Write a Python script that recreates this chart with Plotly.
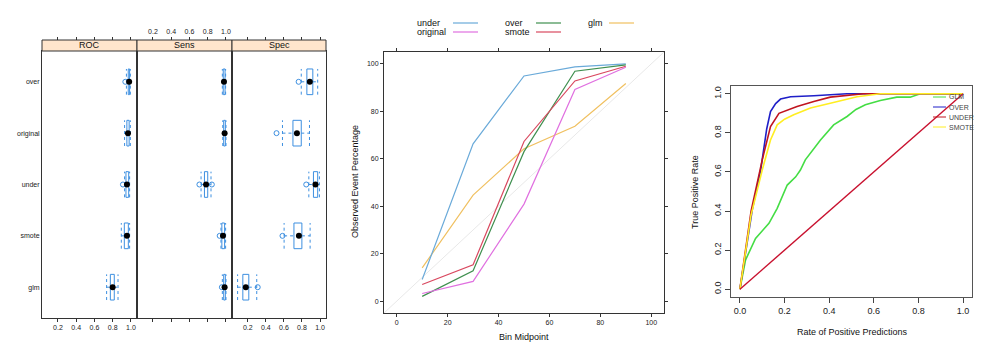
import plotly.graph_objects as go

W, H = 1000, 363
def px(x): return x / W
def py(y): return 1 - y / H

# ---------------- Panel 1: resampling box plots ----------------
models = ["glm", "smote", "under", "original", "over"]          # bottom -> top
metrics = ["ROC", "Sens", "Spec"]
# [lower whisker, q1, median, q3, upper whisker]
roc_stats = [[0.733, 0.774, 0.799, 0.817, 0.858],
             [0.894, 0.927, 0.956, 0.971, 0.985],
             [0.930, 0.945, 0.956, 0.975, 0.985],
             [0.930, 0.955, 0.967, 0.980, 0.993],
             [0.950, 0.970, 0.980, 0.985, 0.993]]
roc_out = [[], [], [0.912], [], [0.938]]
sens_stats = [[0.960, 0.975, 0.985, 0.993, 1.000],
              [0.945, 0.955, 0.967, 0.985, 0.996],
              [0.727, 0.764, 0.782, 0.800, 0.836],
              [0.965, 0.975, 0.985, 0.993, 1.000],
              [0.960, 0.970, 0.978, 0.990, 0.996]]
sens_out = [[0.955], [0.931], [0.709, 0.845], [], []]
spec_stats = [[0.087, 0.145, 0.178, 0.211, 0.299],
              [0.602, 0.711, 0.766, 0.799, 0.890],
              [0.876, 0.927, 0.949, 0.974, 0.993],
              [0.584, 0.700, 0.744, 0.792, 0.883],
              [0.792, 0.854, 0.887, 0.920, 0.974]]
spec_out = [[0.310], [0.584], [0.847], [0.518], [0.763]]
box_ticks = [0.2, 0.4, 0.6, 0.8, 1.0]

# ---------------- Panel 2: calibration ----------------
bin_mid = [10, 30, 50, 70, 90]
cal_under = [9.1, 66.3, 94.9, 98.7, 100.0]
cal_over = [2.0, 12.8, 63.0, 96.9, 99.6]
cal_glm = [14.0, 44.7, 64.2, 73.7, 91.7]
cal_original = [3.2, 8.3, 40.9, 89.2, 98.6]
cal_smote = [7.0, 15.3, 67.3, 92.8, 99.0]
cal_ref = [-5, 105]
cal_ticks = [0, 20, 40, 60, 80, 100]

# ---------------- Panel 3: ROC curves ----------------
glm_fpr = [0, 0.025, 0.07, 0.10, 0.13, 0.167, 0.212, 0.25, 0.271, 0.293, 0.33, 0.361, 0.42, 0.48, 0.52, 0.562, 0.629, 0.703, 0.763, 0.808, 1.0]
glm_tpr = [0, 0.149, 0.26, 0.30, 0.337, 0.414, 0.533, 0.575, 0.61, 0.662, 0.715, 0.764, 0.841, 0.884, 0.92, 0.944, 0.966, 0.983, 0.983, 1.0, 1.0]
over_fpr = [0, 0.055, 0.093, 0.12, 0.137, 0.16, 0.182, 0.227, 0.331, 0.48, 1.0]
over_tpr = [0, 0.405, 0.61, 0.82, 0.909, 0.95, 0.973, 0.985, 0.99, 1.0, 1.0]
under_fpr = [0, 0.05, 0.10, 0.137, 0.175, 0.22, 0.256, 0.331, 0.405, 0.554, 1.0]
under_tpr = [0, 0.40, 0.662, 0.832, 0.90, 0.92, 0.935, 0.961, 0.983, 1.0, 1.0]
smote_fpr = [0, 0.05, 0.10, 0.137, 0.167, 0.20, 0.241, 0.316, 0.405, 0.525, 0.629, 1.0]
smote_tpr = [0, 0.38, 0.61, 0.764, 0.841, 0.87, 0.893, 0.927, 0.952, 0.985, 1.0, 1.0]
roc_ref = [0, 1]
roc_ticks = [0, 0.2, 0.4, 0.6, 0.8, 1.0]

FONT = "Liberation Sans, Arial, sans-serif"
BOXCOL = "#3d8fe0"
AXCOL = "#333333"

fig = go.Figure()

# ---- panel 1 traces ----
half = 0.25
p1_x = [(0.042, 0.137), (0.137, 0.232), (0.232, 0.326)]
p1_y = (py(318), py(51))
rng1 = [0.025, 1.066]
all_stats = [(roc_stats, roc_out), (sens_stats, sens_out), (spec_stats, spec_out)]
for k, (stats, outs) in enumerate(all_stats):
    xa = "x" if k == 0 else f"x{k+1}"
    ya = "y" if k == 0 else f"y{k+1}"
    bx, by, wx, wy, mx, my, ox, oy = [], [], [], [], [], [], [], []
    for i, s in enumerate(stats):
        lo, q1, med, q3, hi = s
        yc = i + 1
        bx += [q1, q3, q3, q1, q1, None]
        by += [yc - half, yc - half, yc + half, yc + half, yc - half, None]
        wx += [lo, q1, None, q3, hi, None, lo, lo, None, hi, hi, None]
        wy += [yc, yc, None, yc, yc, None, yc - half, yc + half, None, yc - half, yc + half, None]
        mx.append(med); my.append(yc)
        for o in outs[i]:
            ox.append(o); oy.append(yc)
    fig.add_trace(go.Scatter(x=wx, y=wy, mode="lines", xaxis=xa, yaxis=ya,
                             line=dict(color=BOXCOL, width=1, dash="dot"),
                             showlegend=False, hoverinfo="skip"))
    fig.add_trace(go.Scatter(x=bx, y=by, mode="lines", xaxis=xa, yaxis=ya,
                             line=dict(color=BOXCOL, width=1),
                             showlegend=False, hoverinfo="skip"))
    fig.add_trace(go.Scatter(x=ox, y=oy, mode="markers", xaxis=xa, yaxis=ya,
                             marker=dict(symbol="circle-open", size=5, color=BOXCOL, line=dict(width=1)),
                             showlegend=False, hoverinfo="skip"))
    fig.add_trace(go.Scatter(x=mx, y=my, mode="markers", xaxis=xa, yaxis=ya,
                             marker=dict(symbol="circle", size=6, color="black"),
                             showlegend=False, hoverinfo="skip"))
    # dummy trace for top overlay axis
    fig.add_trace(go.Scatter(x=[None], y=[None], xaxis=f"x{k+4}", yaxis=ya,
                             showlegend=False, hoverinfo="skip"))

for k in range(3):
    xname = "xaxis" if k == 0 else f"xaxis{k+1}"
    yname = "yaxis" if k == 0 else f"yaxis{k+1}"
    anc_y = "y" if k == 0 else f"y{k+1}"
    anc_x = "x" if k == 0 else f"x{k+1}"
    fig.layout[xname] = dict(domain=list(p1_x[k]), anchor=anc_y, range=rng1, automargin=False,
                             tickvals=box_ticks, ticktext=[f"{v:.1f}" for v in box_ticks],
                             ticks="outside", ticklen=3, tickcolor=AXCOL,
                             showticklabels=(k != 1), showgrid=False, zeroline=False,
                             showline=True, linecolor=AXCOL, mirror=True,
                             tickfont=dict(size=7, color="#222"))
    fig.layout[yname] = dict(domain=list(p1_y), anchor=anc_x, range=[0.4, 5.6], automargin=False,
                             tickvals=[1, 2, 3, 4, 5], ticktext=models,
                             showticklabels=(k == 0), ticks="", showgrid=False,
                             zeroline=False, showline=True, linecolor=AXCOL, mirror=True,
                             tickfont=dict(size=7, color="#222"))
    fig.layout[f"xaxis{k+4}"] = dict(overlaying=anc_x, anchor="free", position=py(40),
                                     side="top", range=rng1, tickvals=box_ticks, automargin=False,
                                     ticktext=[f"{v:.1f}" for v in box_ticks],
                                     ticks="outside", ticklen=3, tickcolor=AXCOL,
                                     showticklabels=(k == 1), showgrid=False, zeroline=False,
                                     showline=False, tickfont=dict(size=7, color="#222"))

shapes = []
annotations = []
for k, m in enumerate(metrics):
    x0, x1 = p1_x[k]
    shapes.append(dict(type="rect", xref="paper", yref="paper", x0=x0, x1=x1,
                       y0=py(51), y1=py(40), fillcolor="#FFE5CC",
                       line=dict(color=AXCOL, width=1)))
    annotations.append(dict(xref="paper", yref="paper", x=(x0 + x1) / 2, y=py(45.5),
                            text=m, showarrow=False, font=dict(size=9, color="#111"),
                            xanchor="center", yanchor="middle"))

# ---- panel 2 traces ----
cal_series = [("under", cal_under, "#6aaad9"), ("original", cal_original, "#e070e0"),
              ("over", cal_over, "#3f8f4f"), ("smote", cal_smote, "#d9485f"),
              ("glm", cal_glm, "#f0c060")]
fig.add_trace(go.Scatter(x=cal_ref, y=cal_ref, mode="lines", xaxis="x7", yaxis="y7",
                         line=dict(color="#e8e8e8", width=1), showlegend=False, hoverinfo="skip"))
for name, vals, col in [cal_series[4], cal_series[0], cal_series[2], cal_series[3], cal_series[1]]:
    fig.add_trace(go.Scatter(x=bin_mid, y=vals, mode="lines", xaxis="x7", yaxis="y7",
                             line=dict(color=col, width=1.2), name=name, showlegend=False))
fig.layout["xaxis7"] = dict(domain=[px(384), px(664)], anchor="y7", range=[-5, 105], automargin=False,
                            tickvals=cal_ticks, ticks="outside", ticklen=3, tickcolor=AXCOL,
                            showgrid=False, zeroline=False, showline=True, linecolor=AXCOL,
                            mirror="ticks", tickfont=dict(size=7, color="#222"))
fig.layout["yaxis7"] = dict(domain=[py(313), py(52)], anchor="x7", range=[-5, 105], automargin=False,
                            tickvals=cal_ticks, ticks="outside", ticklen=3, tickcolor=AXCOL,
                            showgrid=False, zeroline=False, showline=True, linecolor=AXCOL,
                            mirror="ticks", tickfont=dict(size=7, color="#222"))
annotations.append(dict(xref="paper", yref="paper", x=px(524), y=py(337), text="Bin Midpoint",
                        showarrow=False, font=dict(size=9, color="#111"), xanchor="center", yanchor="middle"))
annotations.append(dict(xref="paper", yref="paper", x=px(355), y=py(182), text="Observed Event Percentage",
                        showarrow=False, textangle=-90, font=dict(size=9, color="#111"),
                        xanchor="center", yanchor="middle"))
# key
key_layout = [("under", 415, 453, 478, 23), ("original", 415, 453, 478, 32),
              ("over", 503, 536, 561, 23), ("smote", 503, 536, 561, 32),
              ("glm", 586, 609, 634, 23)]
col_of = {n: c for n, _, c in cal_series}
for name, tx, lx0, lx1, yy in key_layout:
    annotations.append(dict(xref="paper", yref="paper", x=px(tx), y=py(yy), text=name,
                            showarrow=False, font=dict(size=9, color="#111"),
                            xanchor="left", yanchor="middle"))
    shapes.append(dict(type="line", xref="paper", yref="paper", x0=px(lx0), x1=px(lx1),
                       y0=py(yy), y1=py(yy), line=dict(color=col_of[name], width=1.2)))

# ---- panel 3 traces ----
roc_series = [("GLM", glm_fpr, glm_tpr, "#44dd44"), ("OVER", over_fpr, over_tpr, "#1f1fc8"),
              ("UNDER", under_fpr, under_tpr, "#c0141e"), ("SMOTE", smote_fpr, smote_tpr, "#ffee22")]
for name, fx, ty, col in roc_series:
    fig.add_trace(go.Scatter(x=fx, y=ty, mode="lines", xaxis="x8", yaxis="y8",
                             line=dict(color=col, width=1.6), name=name, showlegend=False))
fig.add_trace(go.Scatter(x=roc_ref, y=roc_ref, mode="lines", xaxis="x8", yaxis="y8",
                         line=dict(color="#c8102e", width=1.4), showlegend=False, hoverinfo="skip"))
fig.layout["xaxis8"] = dict(domain=[px(731), px(972)], anchor="y8", range=[-0.04, 1.04], automargin=False,
                            tickvals=roc_ticks, ticktext=[f"{v:.1f}" for v in roc_ticks],
                            ticks="outside", ticklen=5, tickcolor="#444",
                            showgrid=False, zeroline=False, showline=True, linecolor="#555",
                            mirror=True, tickfont=dict(size=9, color="#222"))
fig.layout["yaxis8"] = dict(domain=[py(297), py(86)], anchor="x8", range=[-0.04, 1.04], automargin=False,
                            tickvals=roc_ticks, ticktext=[f"{v:.1f}" for v in roc_ticks],
                            ticks="outside", ticklen=5, tickcolor="#444", tickangle=-90,
                            showgrid=False, zeroline=False, showline=True, linecolor="#555",
                            mirror=True, tickfont=dict(size=9, color="#222"))
annotations.append(dict(xref="paper", yref="paper", x=px(852), y=py(332),
                        text="Rate of Positive Predictions", showarrow=False,
                        font=dict(size=9, color="#111"), xanchor="center", yanchor="middle"))
annotations.append(dict(xref="paper", yref="paper", x=px(695), y=py(192),
                        text="True Positive Rate", showarrow=False, textangle=-90,
                        font=dict(size=9, color="#111"), xanchor="center", yanchor="middle"))
for j, (name, _, _, col) in enumerate(roc_series):
    yy = 97 + j * 10
    shapes.append(dict(type="line", xref="paper", yref="paper", x0=px(933), x1=px(946),
                       y0=py(yy), y1=py(yy), line=dict(color=col, width=1)))
    annotations.append(dict(xref="paper", yref="paper", x=px(947), y=py(yy), text=name,
                            showarrow=False, font=dict(size=7, color="#444"),
                            xanchor="left", yanchor="middle"))

fig.update_layout(width=W, height=H, margin=dict(l=0, r=0, t=0, b=0, autoexpand=False),
                  paper_bgcolor="white", plot_bgcolor="white",
                  font=dict(family=FONT, size=8, color="#222"),
                  shapes=shapes, annotations=annotations, showlegend=False)

fig.write_html("out.html", config={"displayModeBar": False},
               post_script="document.body.style.margin='0';document.body.style.padding='0';"
                           "document.documentElement.style.overflow='hidden';")
